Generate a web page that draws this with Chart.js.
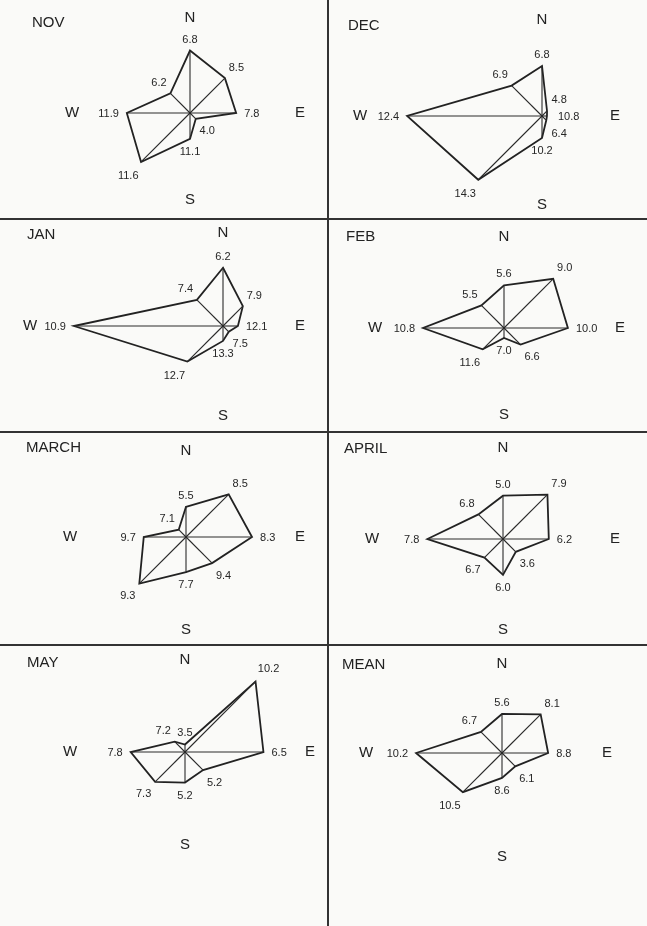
<!DOCTYPE html>
<html>
<head>
<meta charset="utf-8">
<title>Wind roses</title>
<script src="https://cdn.jsdelivr.net/npm/chart.js@4.4.1/dist/chart.umd.min.js"></script>
<style>
  html, body {
    margin: 0;
    padding: 0;
    background: #fafaf8;
    overflow: hidden;
  }
  #page {
    position: relative;
    width: 647px;
    height: 926px;
    font-family: "Liberation Sans", Arial, sans-serif;
    color: #222;
  }
  .rose {
    position: absolute;
    pointer-events: none;
    z-index: 1;
  }
  .title {
    position: absolute;
    font-size: 15px;
    line-height: 15px;
    color: #222;
    z-index: 2;
  }
  .rule {
    position: absolute;
    background: #333;
  }
</style>
</head>
<body>
<div id="page"></div>

<script>
// Directions, clockwise from north
const directions = ['N', 'NE', 'E', 'SE', 'S', 'SW', 'W', 'NW'];
const months = ['NOV', 'DEC', 'JAN', 'FEB', 'MARCH', 'APRIL', 'MAY', 'MEAN'];

// Frequency of wind from each direction (%), sets the length of each arm
const freqNov   = [17.6, 13.9, 13.0, 2.3, 7.3, 19.5, 17.8, 7.8];
const freqDec   = [14.1, 2.0, 1.4, 1.7, 6.2, 25.4, 38.0, 12.1];
const freqJan   = [16.4, 7.9, 4.2, 2.3, 4.2, 14.2, 42.0, 10.4];
const freqFeb   = [12.0, 19.6, 18.0, 6.6, 2.8, 8.5, 22.8, 9.0];
const freqMarch = [8.5, 17.0, 18.6, 10.4, 9.9, 18.6, 11.9, 2.9];
const freqApril = [12.2, 17.7, 12.9, 5.1, 10.1, 7.4, 21.3, 9.8];
const freqMay   = [2.1, 28.1, 22.1, 7.2, 8.6, 11.9, 15.3, 4.1];
const freqMean  = [11.0, 15.4, 13.0, 5.3, 7.0, 15.6, 24.2, 8.4];

// Mean wind speed for each direction, written at the tip of each arm
const speedNov   = [6.8, 8.5, 7.8, 4.0, 11.1, 11.6, 11.9, 6.2];
const speedDec   = [6.8, 4.8, 10.8, 6.4, 10.2, 14.3, 12.4, 6.9];
const speedJan   = [6.2, 7.9, 12.1, 7.5, 13.3, 12.7, 10.9, 7.4];
const speedFeb   = [5.6, 9.0, 10.0, 6.6, 7.0, 11.6, 10.8, 5.5];
const speedMarch = [5.5, 8.5, 8.3, 9.4, 7.7, 9.3, 9.7, 7.1];
const speedApril = [5.0, 7.9, 6.2, 3.6, 6.0, 6.7, 7.8, 6.8];
const speedMay   = [3.5, 10.2, 6.5, 5.2, 5.2, 7.3, 7.8, 7.2];
const speedMean  = [5.6, 8.1, 8.8, 6.1, 8.6, 10.5, 10.2, 6.7];

const freqs = [freqNov, freqDec, freqJan, freqFeb, freqMarch, freqApril, freqMay, freqMean];
const speeds = [speedNov, speedDec, speedJan, speedFeb, speedMarch, speedApril, speedMay, speedMean];

// Page layout: rose centre, compass letter distances and title corner
const panels = [
  { cx: 190, cy: 113, n: 95, s: 87,  w: 118, e: 110, tx: 32,  ty: 14 },
  { cx: 542, cy: 116, n: 96, s: 89,  w: 182, e: 73,  tx: 348, ty: 17 },
  { cx: 223, cy: 326, n: 93, s: 90,  w: 193, e: 77,  tx: 27,  ty: 226 },
  { cx: 504, cy: 328, n: 91, s: 87,  w: 129, e: 116, tx: 346, ty: 228 },
  { cx: 186, cy: 537, n: 86, s: 93,  w: 116, e: 114, tx: 26,  ty: 439 },
  { cx: 503, cy: 539, n: 91, s: 91,  w: 131, e: 112, tx: 344, ty: 440 },
  { cx: 185, cy: 752, n: 92, s: 93,  w: 115, e: 125, tx: 27,  ty: 654 },
  { cx: 502, cy: 753, n: 89, s: 104, w: 136, e: 105, tx: 342, ty: 656 }
];

const R = 210;            // half size of each rose canvas
const PX_PER_PCT = 3.55;  // arm length per percent
const INK = '#222';

// Spokes to every vertex, speed figures and compass letters
const roseMarks = {
  id: 'roseMarks',
  afterDatasetsDraw(chart, args, opts) {
    const ctx = chart.ctx;
    const scale = chart.scales.r;
    const meta = chart.getDatasetMeta(0);
    const cx = scale.xCenter;
    const cy = scale.yCenter;

    ctx.save();
    ctx.strokeStyle = '#2a2a2a';
    ctx.lineWidth = 1.1;
    meta.data.forEach(pt => {
      ctx.beginPath();
      ctx.moveTo(cx, cy);
      ctx.lineTo(pt.x, pt.y);
      ctx.stroke();
    });

    // speed figures just beyond each tip
    ctx.font = '11px "Liberation Sans", Arial, sans-serif';
    ctx.fillStyle = '#262626';
    ctx.textAlign = 'center';
    ctx.textBaseline = 'middle';
    const data = chart.data.datasets[0].data;
    opts.speeds.forEach((v, i) => {
      const txt = v.toFixed(1);
      const w = ctx.measureText(txt).width;
      const ang = scale.getIndexAngle(i) - Math.PI / 2;
      const armPx = scale.getDistanceFromCenterForValue(data[i]);
      const gap = 8 + Math.abs(Math.cos(ang)) * w / 2 + Math.abs(Math.sin(ang)) * 4;
      const dist = Math.max(armPx, 8) + gap;
      const p = scale.getPointPosition(i, dist);
      ctx.fillText(txt, p.x, p.y + 1);
    });

    // compass letters
    const c = opts.compass;
    ctx.font = '15px "Liberation Sans", Arial, sans-serif';
    ctx.fillStyle = INK;
    ctx.fillText('N', cx, cy - c.n);
    ctx.fillText('S', cx, cy + c.s);
    ctx.fillText('W', cx - c.w, cy);
    ctx.fillText('E', cx + c.e, cy);
    ctx.restore();
  }
};

function addRule(x, y, w, h) {
  const d = document.createElement('div');
  d.className = 'rule';
  d.style.left = x + 'px';
  d.style.top = y + 'px';
  d.style.width = w + 'px';
  d.style.height = h + 'px';
  document.getElementById('page').appendChild(d);
}

function buildRose(idx) {
  const page = document.getElementById('page');
  const p = panels[idx];

  const canvas = document.createElement('canvas');
  canvas.className = 'rose';
  canvas.width = 2 * R;
  canvas.height = 2 * R;
  canvas.style.left = (p.cx - R) + 'px';
  canvas.style.top = (p.cy - R) + 'px';
  page.appendChild(canvas);

  const title = document.createElement('div');
  title.className = 'title';
  title.textContent = months[idx];
  title.style.left = p.tx + 'px';
  title.style.top = p.ty + 'px';
  page.appendChild(title);

  new Chart(canvas.getContext('2d'), {
    type: 'radar',
    data: {
      labels: directions,
      datasets: [{
        label: months[idx],
        data: freqs[idx],
        borderColor: INK,
        borderWidth: 1.8,
        backgroundColor: 'rgba(0,0,0,0)',
        fill: false,
        pointRadius: 0,
        pointHoverRadius: 0,
        tension: 0,
        borderJoinStyle: 'miter'
      }]
    },
    options: {
      responsive: false,
      animation: false,
      events: [],
      layout: { padding: 0 },
      plugins: {
        legend: { display: false },
        tooltip: { enabled: false },
        roseMarks: {
          speeds: speeds[idx],
          compass: { n: p.n, s: p.s, w: p.w, e: p.e }
        }
      },
      scales: {
        r: {
          min: 0,
          max: R / PX_PER_PCT,
          ticks: { display: false },
          grid: { display: false },
          angleLines: { display: false },
          pointLabels: { display: false }
        }
      }
    },
    plugins: [roseMarks]
  });
}

// panel dividers
addRule(327, 0, 1.5, 926);
addRule(0, 218, 647, 1.5);
addRule(0, 431, 647, 1.5);
addRule(0, 644, 647, 1.5);

months.forEach((m, i) => buildRose(i));
</script>
</body>
</html>
